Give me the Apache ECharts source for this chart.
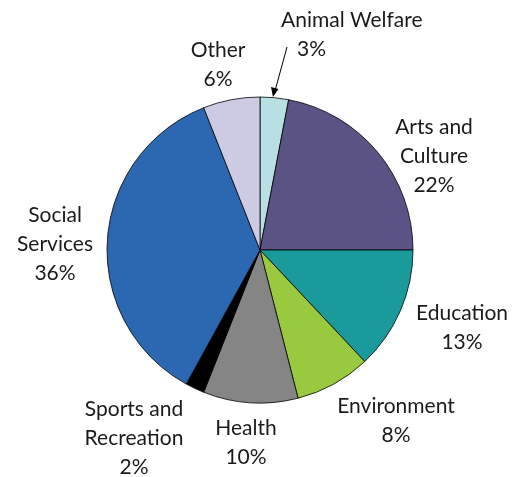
<!DOCTYPE html>
<html>
<head>
<meta charset="utf-8">
<script src="https://cdn.jsdelivr.net/npm/echarts@6/dist/echarts.min.js"></script>
<style>
html,body{margin:0;padding:0;background:#fff;}
#chart{width:514px;height:477px;}
</style>
</head>
<body>
<div id="chart"></div>
<script>
// ---- data ----
const categories = ['Animal Welfare', 'Arts and Culture', 'Education', 'Environment', 'Health', 'Sports and Recreation', 'Social Services', 'Other'];
const labelNames = ['Animal Welfare', 'Arts and\nCulture', 'Education', 'Environment', 'Health', 'Sports and\nRecreation', 'Social\nServices', 'Other'];
const values = [3, 22, 13, 8, 10, 2, 36, 6];
const colors = ['#b8dfe2', '#5b5286', '#1b9a9b', '#99c93e', '#858585', '#000000', '#2c67b1', '#cdcbe4'];

// label block anchors (layout only)
const labelPos = [
  {x: 281, y: 35, align: 'left'},
  {x: 434, y: 156, align: 'center'},
  {x: 462, y: 328, align: 'center'},
  {x: 396, y: 421, align: 'center'},
  {x: 246, y: 443, align: 'center'},
  {x: 134, y: 438, align: 'center'},
  {x: 55, y: 244, align: 'center'},
  {x: 218, y: 65, align: 'center'}
];

const chart = echarts.init(document.getElementById('chart'), null, {renderer: 'canvas'});
const fontFamily = 'Lato, "Open Sans", sans-serif';
const fs = 21;

const seriesData = categories.map((c, i) => {
  const item = {name: c, value: values[i], itemStyle: {color: colors[i]}};
  if (i === 0) {
    item.label = {
      formatter: p => '{t|' + labelNames[0] + '}\n{p|' + p.value + '%}'
    };
  }
  return item;
});

chart.setOption({
  backgroundColor: '#ffffff',
  animation: false,
  series: [{
    type: 'pie',
    center: [260, 250],
    radius: [0, 153],
    startAngle: 90,
    clockwise: true,
    data: seriesData,
    itemStyle: {borderColor: '#000', borderWidth: 0.8},
    label: {
      show: true,
      position: 'outside',
      alignTo: 'none',
      overflow: 'none',
      color: '#1a1a1a',
      fontFamily: fontFamily,
      fontSize: fs,
      lineHeight: 29,
      formatter: p => labelNames[p.dataIndex] + '\n' + p.value + '%',
      rich: {
        t: {fontFamily: fontFamily, fontSize: fs, lineHeight: 29, color: '#1a1a1a'},
        p: {fontFamily: fontFamily, fontSize: fs, lineHeight: 29, color: '#1a1a1a', padding: [0, 0, 0, 16]}
      }
    },
    labelLine: {show: false},
    labelLayout: params => {
      const lp = labelPos[params.dataIndex];
      return {x: lp.x, y: lp.y, align: lp.align, verticalAlign: 'middle', hideOverlap: false};
    },
    emphasis: {disabled: true}
  }],
  graphic: [
    {type: 'line', shape: {x1: 287, y1: 47, x2: 275.5, y2: 89}, style: {stroke: '#000', lineWidth: 1}},
    {type: 'polygon', shape: {points: [[273, 97], [271, 87], [278.5, 89]]}, style: {fill: '#000'}}
  ]
});
</script>
</body>
</html>
